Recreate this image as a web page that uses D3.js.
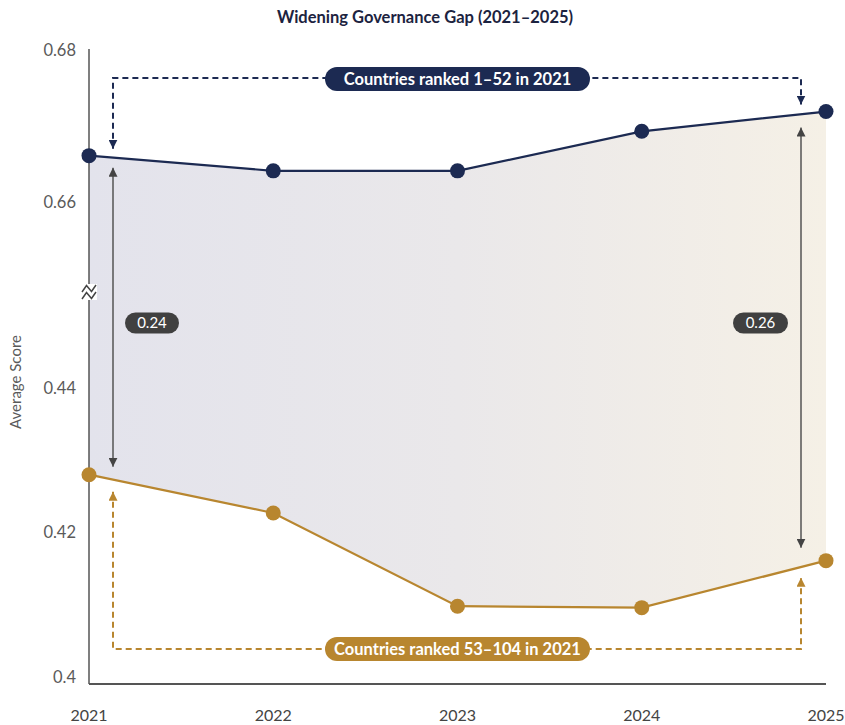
<!DOCTYPE html>
<html>
<head>
<meta charset="utf-8">
<script src="https://cdn.jsdelivr.net/npm/d3@7"></script>
<style>
  body { margin: 0; background: #fff; }
  text { font-family: Lato, "Open Sans", sans-serif; }
</style>
</head>
<body>
<div id="chart"></div>
<script>
// data
let years = [2021, 2022, 2023, 2024, 2025];
let topGroup = [0.6661, 0.6641, 0.6641, 0.6693, 0.6719];
let bottomGroup = [0.4280, 0.4227, 0.4098, 0.4096, 0.4161];
let topTicks = [0.68, 0.66];
let bottomTicks = [0.44, 0.42, 0.40];
let gapLabels = ["0.24", "0.26"];
let topLabel = "Countries ranked 1\u201352 in 2021";
let bottomLabel = "Countries ranked 53\u2013104 in 2021";

let width = 845, height = 725;
let navy = "#1c2a52", gold = "#b8862f", grey = "#555", pillGrey = "#404040";

let svg = d3.select("#chart").append("svg")
  .attr("width", width).attr("height", height);

let x = d3.scalePoint().domain(years).range([89, 826]);

// broken y axis: two linear pieces
let yTop = d3.scaleLinear().domain([0.66, 0.68]).range([202, 50]);
let yBottom = d3.scaleLinear().domain([0.40, 0.44]).range([677, 388]);
function y(v) { return v >= 0.55 ? yTop(v) : yBottom(v); }

let defs = svg.append("defs");
let grad = defs.append("linearGradient").attr("id", "gapFill")
  .attr("x1", "0%").attr("x2", "100%").attr("y1", "0%").attr("y2", "0%");
grad.append("stop").attr("offset", "0%").attr("stop-color", "#e3e3ec");
grad.append("stop").attr("offset", "50%").attr("stop-color", "#eae8ea");
grad.append("stop").attr("offset", "100%").attr("stop-color", "#f5f0e6");

function marker(id, color) {
  defs.append("marker").attr("id", id)
    .attr("viewBox", "0 0 10 10").attr("refX", 10).attr("refY", 5)
    .attr("markerWidth", 9).attr("markerHeight", 9)
    .attr("markerUnits", "userSpaceOnUse")
    .attr("orient", "auto-start-reverse")
    .append("path").attr("d", "M0,0L10,5L0,10z").attr("fill", color);
}
marker("arrNavy", navy);
marker("arrGold", gold);
marker("arrGrey", "#444");

// title
svg.append("text").attr("x", 425).attr("y", 23)
  .attr("text-anchor", "middle").attr("font-size", 16.5).attr("font-weight", 700)
  .attr("fill", "#1c2340").text("Widening Governance Gap (2021\u20132025)");

// gap area
let rows = years.map((yr, i) => ({year: yr, hi: topGroup[i], lo: bottomGroup[i]}));
let area = d3.area().x(d => x(d.year)).y0(d => y(d.lo)).y1(d => y(d.hi));
svg.append("path").datum(rows).attr("d", area).attr("fill", "url(#gapFill)");

// axes
svg.append("line").attr("x1", 89).attr("x2", 89).attr("y1", 49).attr("y2", 684)
  .attr("stroke", grey).attr("stroke-width", 1.5);
svg.append("line").attr("x1", 89).attr("x2", 826).attr("y1", 684).attr("y2", 684)
  .attr("stroke", grey).attr("stroke-width", 2);

// break marker
let bx = 89, by = 292;
svg.append("rect").attr("x", bx - 8).attr("y", by - 8).attr("width", 16).attr("height", 16).attr("fill", "#fff");
[-3.5, 3.5].forEach(off => {
  svg.append("path")
    .attr("d", `M${bx - 7},${by + off + 3.5}L${bx - 2.5},${by + off - 3}L${bx + 2.5},${by + off + 3}L${bx + 7},${by + off - 3.5}`)
    .attr("fill", "none").attr("stroke", "#444").attr("stroke-width", 1.5);
});

// tick labels
let tickData = topTicks.map(t => ({v: t, y: yTop(t)}))
  .concat(bottomTicks.map(t => ({v: t, y: yBottom(t)})));
svg.selectAll(".ytick").data(tickData).enter().append("text")
  .attr("x", 76).attr("y", d => d.y).attr("dy", "0.35em")
  .attr("text-anchor", "end").attr("font-size", 16.5)
  .attr("fill", "#5a5a5a")
  .text(d => d3.format("")(+d.v.toFixed(2)));

svg.selectAll(".xtick").data(years).enter().append("text")
  .attr("x", d => x(d)).attr("y", 721)
  .attr("text-anchor", "middle").attr("font-size", 16).attr("fill", "#444")
  .text(d => d);

svg.append("text")
  .attr("transform", "translate(21,382) rotate(-90)")
  .attr("text-anchor", "middle").attr("font-size", 15)
  .attr("fill", "#5a5a5a")
  .text("Average Score");

// dashed group brackets
let xl = x(2021) + 24, xr = x(2025) - 25;
let topY = 78, botY = 649;
svg.append("path")
  .attr("d", `M${xl},${y(topGroup[0]) - 7}V${topY}H${xr}V${y(topGroup[4]) - 7}`)
  .attr("fill", "none").attr("stroke", navy).attr("stroke-width", 2)
  .attr("stroke-dasharray", "6,4")
  .attr("marker-start", "url(#arrNavy)").attr("marker-end", "url(#arrNavy)");
svg.append("path")
  .attr("d", `M${xl},${y(bottomGroup[0]) + 17}V${botY}H${xr}V${y(bottomGroup[4]) + 17}`)
  .attr("fill", "none").attr("stroke", gold).attr("stroke-width", 2)
  .attr("stroke-dasharray", "6,4")
  .attr("marker-start", "url(#arrGold)").attr("marker-end", "url(#arrGold)");

// gap arrows
[[0, xl, 12, -8], [4, xr, 16, -13]].forEach(([i, ax, a, b]) => {
  svg.append("line")
    .attr("x1", ax).attr("x2", ax)
    .attr("y1", y(topGroup[i]) + a).attr("y2", y(bottomGroup[i]) + b)
    .attr("stroke", "#555").attr("stroke-width", 1.5)
    .attr("marker-start", "url(#arrGrey)").attr("marker-end", "url(#arrGrey)");
});

// lines and points
let line = d3.line().x(d => x(d.year)).y(d => y(d.v));
[[topGroup, navy], [bottomGroup, gold]].forEach(([vals, col]) => {
  let pts = years.map((yr, i) => ({year: yr, v: vals[i]}));
  svg.append("path").datum(pts).attr("d", line)
    .attr("fill", "none").attr("stroke", col).attr("stroke-width", 2.2);
  svg.selectAll(null).data(pts).enter().append("circle")
    .attr("cx", d => x(d.year)).attr("cy", d => y(d.v)).attr("r", 7.5)
    .attr("fill", col);
});

// pills
function pill(cx, cy, w, h, fill, label, size, weight) {
  svg.append("rect").attr("x", cx - w / 2).attr("y", cy - h / 2)
    .attr("width", w).attr("height", h).attr("rx", h / 2).attr("fill", fill);
  svg.append("text").attr("x", cx).attr("y", cy).attr("dy", "0.36em")
    .attr("text-anchor", "middle").attr("font-size", size).attr("font-weight", weight)
    .attr("fill", "#fff").text(label);
}
pill(457.5, topY + 1, 265, 24, navy, topLabel, 16.5, 700);
pill(457.5, botY, 265, 24, gold, bottomLabel, 16.5, 700);
pill(152, 323, 54, 21, pillGrey, gapLabels[0], 15, 400);
pill(760.5, 323, 55, 21, pillGrey, gapLabels[1], 15, 400);
</script>
</body>
</html>
